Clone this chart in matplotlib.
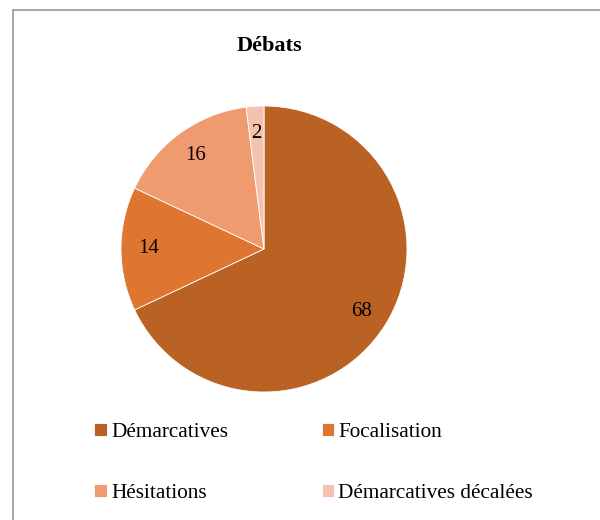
import matplotlib
matplotlib.use("Agg")
import matplotlib.pyplot as plt
from matplotlib.lines import Line2D

plt.rcParams['font.family'] = ['Liberation Serif', 'DejaVu Serif']

# data
categories = ["Démarcatives", "Focalisation", "Hésitations", "Démarcatives décalées"]
values = [68, 14, 16, 2]
colors = ["#BA6224", "#DE7530", "#F09A6F", "#F5C2AF"]

fig = plt.figure(figsize=(6, 5.2), dpi=100)

# chart frame (only top/left edges visible in the original crop)
fig.add_artist(Line2D([13 / 600, 13 / 600], [0, 1 - 9.5 / 520], transform=fig.transFigure,
                      color="#A6A6A6", lw=1.4))
fig.add_artist(Line2D([13 / 600, 1], [1 - 9.5 / 520, 1 - 9.5 / 520], transform=fig.transFigure,
                      color="#A6A6A6", lw=1.4))

fig.text(269 / 600, 1 - 46 / 520, "Débats", ha="center", va="center",
         fontsize=16, fontweight="bold")

ax = fig.add_axes([121 / 600, (520 - 249 - 143) / 520, 286 / 600, 286 / 520])
total = sum(values)
wedges, texts, autotexts = ax.pie(values, colors=colors, startangle=90, counterclock=False,
                                  autopct=lambda p: f"{p * total / 100:.0f}", pctdistance=0.81,
                                  wedgeprops=dict(edgecolor="white", linewidth=0.6),
                                  textprops=dict(fontsize=15, color="black"))
ax.set_xlim(-1, 1)
ax.set_ylim(-1, 1)
ax.set_aspect("equal")

# legend: rows Démarcatives/Focalisation, Hésitations/Démarcatives décalées
order = [0, 2, 1, 3]
fig.legend([wedges[i] for i in order], [categories[i] for i in order], ncol=2,
           loc="upper left", bbox_to_anchor=(94 / 600, 1 - 423 / 520), frameon=False,
           fontsize=15.3, handlelength=0.6, handleheight=0.6, handletextpad=0.2,
           labelspacing=1.95, columnspacing=4.4, borderaxespad=0, borderpad=0)

fig.savefig("out.png", dpi=100)
